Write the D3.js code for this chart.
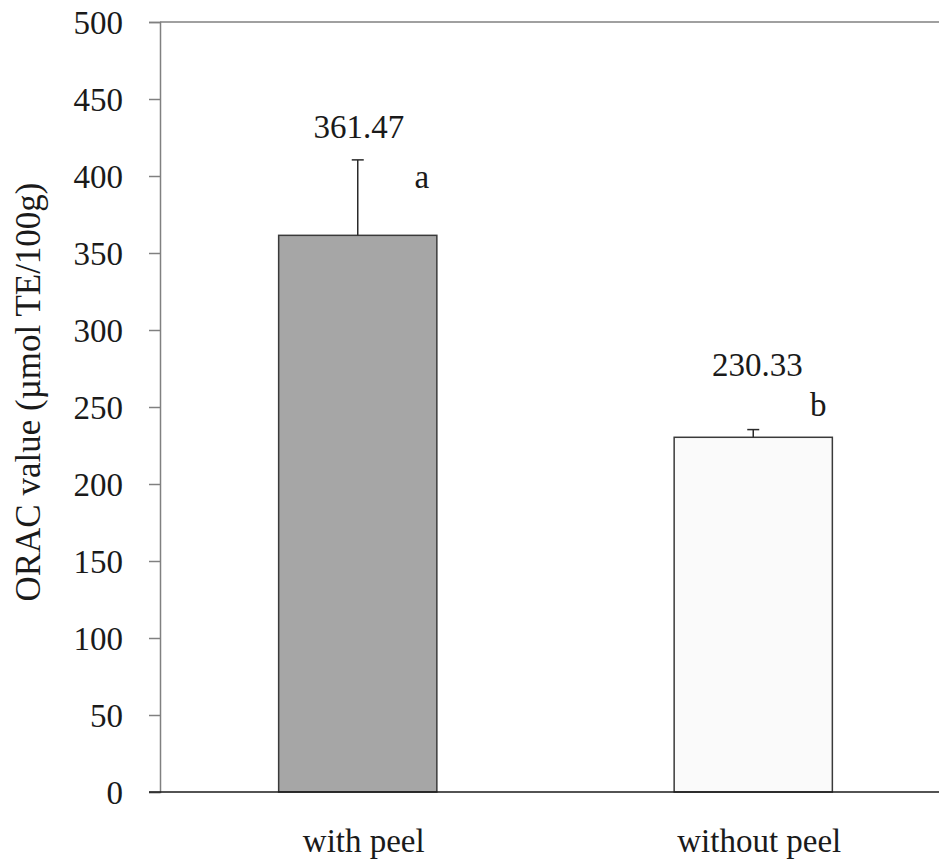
<!DOCTYPE html>
<html>
<head>
<meta charset="utf-8">
<script src="https://cdn.jsdelivr.net/npm/d3@7"></script>
<style>
  html, body { margin: 0; padding: 0; background: #fff; }
  svg { display: block; }
  text { font-family: "Liberation Serif", "Times New Roman", serif; fill: #1a1a1a; }
</style>
</head>
<body>
<svg id="chart" width="939" height="861"></svg>
<script>
// ORAC antioxidant capacity, fruit with and without peel
const categories = ["with peel", "without peel"];
const means = [361.47, 230.33];
const errors = [49, 5];
const letters = ["a", "b"];
const fills = ["#a6a6a6", "#fafafa"];
const yTicks = [0, 50, 100, 150, 200, 250, 300, 350, 400, 450, 500];
const yTitle = "ORAC value (\u00b5mol TE/100g)";

const svg = d3.select("#chart");
const plotLeft = 160, plotRight = 951, plotTop = 22, plotBottom = 792;
const fs = 33;

const x = d3.scaleBand().domain(categories).range([plotLeft, plotRight])
  .paddingInner(0.6).paddingOuter(0.3);
const y = d3.scaleLinear().domain([0, 500]).range([plotBottom, plotTop]);

// frame: top border and left axis
svg.append("line").attr("x1", plotLeft).attr("x2", plotRight).attr("y1", plotTop).attr("y2", plotTop)
  .attr("stroke", "#808080").attr("stroke-width", 1.5);

const yAxis = svg.append("g").attr("transform", `translate(${plotLeft},0)`)
  .call(d3.axisLeft(y).tickValues(yTicks).tickSize(11).tickPadding(26));
yAxis.select(".domain").attr("stroke", "#808080").attr("stroke-width", 1.5);
yAxis.selectAll(".tick line").attr("stroke", "#808080").attr("stroke-width", 1.5);
yAxis.selectAll(".tick text").attr("font-size", fs).attr("fill", "#1a1a1a")
  .attr("font-family", "Liberation Serif, serif").attr("dy", "0.36em");

// bars
svg.selectAll("rect.bar").data(categories).enter().append("rect")
  .attr("class", "bar")
  .attr("x", d => x(d))
  .attr("width", x.bandwidth())
  .attr("y", (d, i) => y(means[i]))
  .attr("height", (d, i) => y(0) - y(means[i]))
  .attr("fill", (d, i) => fills[i])
  .attr("stroke", "#3a3a3a").attr("stroke-width", 1.5);

// error bars (upper only)
categories.forEach((c, i) => {
  const cx = x(c) + x.bandwidth() / 2;
  svg.append("line").attr("x1", cx).attr("x2", cx)
    .attr("y1", y(means[i])).attr("y2", y(means[i] + errors[i]))
    .attr("stroke", "#2a2a2a").attr("stroke-width", 1.5);
  svg.append("line").attr("x1", cx - 6).attr("x2", cx + 6)
    .attr("y1", y(means[i] + errors[i])).attr("y2", y(means[i] + errors[i]))
    .attr("stroke", "#2a2a2a").attr("stroke-width", 1.5);
});

// value labels and significance letters (hand-placed text boxes)
const cx0 = x(categories[0]) + x.bandwidth() / 2;
const cx1 = x(categories[1]) + x.bandwidth() / 2;
const top0 = y(means[0] + errors[0]);
const top1 = y(means[1] + errors[1]);
svg.append("text").attr("x", cx0 + 1).attr("y", top0 - 22)
  .attr("text-anchor", "middle").attr("font-size", fs).text(means[0].toFixed(2));
svg.append("text").attr("x", cx0 + 64).attr("y", top0 + 28)
  .attr("text-anchor", "middle").attr("font-size", fs).text(letters[0]);
svg.append("text").attr("x", cx1 + 4).attr("y", top1 - 54)
  .attr("text-anchor", "middle").attr("font-size", fs).text(means[1].toFixed(2));
svg.append("text").attr("x", cx1 + 65).attr("y", top1 - 14)
  .attr("text-anchor", "middle").attr("font-size", fs).text(letters[1]);

// x axis
svg.append("line").attr("x1", plotLeft - 11).attr("x2", plotRight).attr("y1", plotBottom).attr("y2", plotBottom)
  .attr("stroke", "#1a1a1a").attr("stroke-width", 1.5);
svg.selectAll("text.xlab").data(categories).enter().append("text")
  .attr("class", "xlab")
  .attr("x", d => x(d) + x.bandwidth() / 2 + 6)
  .attr("y", 852)
  .attr("text-anchor", "middle").attr("font-size", fs)
  .text(d => d);

// y title
svg.append("text").attr("transform", "translate(40,392) rotate(-90)")
  .attr("text-anchor", "middle").attr("font-size", 35)
  .text(yTitle);
</script>
</body>
</html>
